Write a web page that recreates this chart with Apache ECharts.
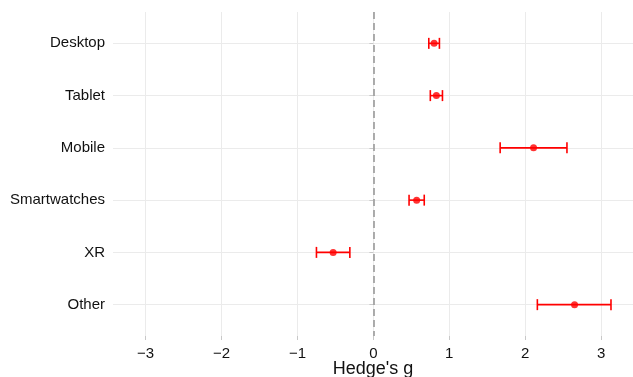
<!DOCTYPE html>
<html>
<head>
<meta charset="utf-8">
<script src="https://cdn.jsdelivr.net/npm/echarts@6/dist/echarts.min.js"></script>
<style>
  html, body { margin: 0; padding: 0; background: #ffffff; }
  #chart { width: 633px; height: 377px; }
</style>
</head>
<body>
<div id="chart"></div>
<script>
// Effect sizes (Hedge's g) with 95% confidence intervals per device type
const devices = ['Desktop', 'Tablet', 'Mobile', 'Smartwatches', 'XR', 'Other'];
const hedgesG = [0.80, 0.83, 2.11, 0.57, -0.53, 2.65];
const ciLower = [0.73, 0.75, 1.67, 0.47, -0.75, 2.16];
const ciUpper = [0.87, 0.91, 2.55, 0.67, -0.31, 3.13];
const xTicks = [-3, -2, -1, 0, 1, 2, 3];
const rowPositions = devices.map((d, i) => i + 1);

const FONT = '"Liberation Sans", Arial, Helvetica, sans-serif';
const RED = '#ff0000';

const chart = echarts.init(document.getElementById('chart'), null, { renderer: 'canvas' });

const intervalRows = devices.map((d, i) => [ciLower[i], ciUpper[i], rowPositions[i]]);
const pointRows = devices.map((d, i) => [hedgesG[i], rowPositions[i]]);

function renderErrorBar(params, api) {
  const lo = api.coord([api.value(0), api.value(2)]);
  const hi = api.coord([api.value(1), api.value(2)]);
  const cap = 5.5;
  const style = { stroke: RED, lineWidth: 1.6 };
  return {
    type: 'group',
    children: [
      { type: 'line', shape: { x1: lo[0], y1: lo[1], x2: hi[0], y2: hi[1] }, style },
      { type: 'line', shape: { x1: lo[0], y1: lo[1] - cap, x2: lo[0], y2: lo[1] + cap }, style },
      { type: 'line', shape: { x1: hi[0], y1: hi[1] - cap, x2: hi[0], y2: hi[1] + cap }, style }
    ]
  };
}

chart.setOption({
  animation: false,
  backgroundColor: '#ffffff',
  grid: { left: 113, right: 0, top: 12, bottom: 41, containLabel: false, outerBoundsMode: 'none' },
  xAxis: {
    type: 'value',
    min: -3.43,
    max: 3.42,
    name: "Hedge's g",
    nameLocation: 'middle',
    nameGap: 24,
    nameMoveOverlap: false,
    nameTextStyle: { fontFamily: FONT, fontSize: 18, color: '#111111' },
    axisLine: { show: false },
    axisTick: { show: true, length: 4, lineStyle: { color: '#c8c8c8', width: 1 }, customValues: xTicks },
    axisLabel: {
      customValues: xTicks,
      fontFamily: FONT, fontSize: 15, color: '#111111', margin: 10,
      formatter: v => (v < 0 ? '\u2212' + Math.abs(v) : String(v))
    },
    splitLine: { show: true, lineStyle: { color: '#ebebeb', width: 1 } }
  },
  yAxis: {
    type: 'value',
    min: 0.4,
    max: 6.6,
    inverse: true,
    axisLine: { show: false },
    axisTick: { show: true, length: 4, lineStyle: { color: '#c8c8c8', width: 1 }, customValues: rowPositions },
    axisLabel: {
      customValues: rowPositions,
      fontFamily: FONT, fontSize: 15, color: '#111111', margin: 8,
      formatter: v => devices[Math.round(v) - 1] || ''
    },
    splitLine: { show: true, lineStyle: { color: '#ebebeb', width: 1 } }
  },
  series: [
    {
      type: 'custom',
      renderItem: renderErrorBar,
      encode: { x: [0, 1], y: 2 },
      data: intervalRows,
      z: 3
    },
    {
      type: 'scatter',
      data: pointRows,
      symbol: 'circle',
      symbolSize: 7,
      itemStyle: { color: RED },
      z: 4,
      markLine: {
        silent: true,
        symbol: 'none',
        label: { show: false },
        lineStyle: { color: '#999999', type: [7, 4], width: 1.6 },
        data: [{ xAxis: 0 }]
      }
    }
  ]
});
</script>
</body>
</html>
